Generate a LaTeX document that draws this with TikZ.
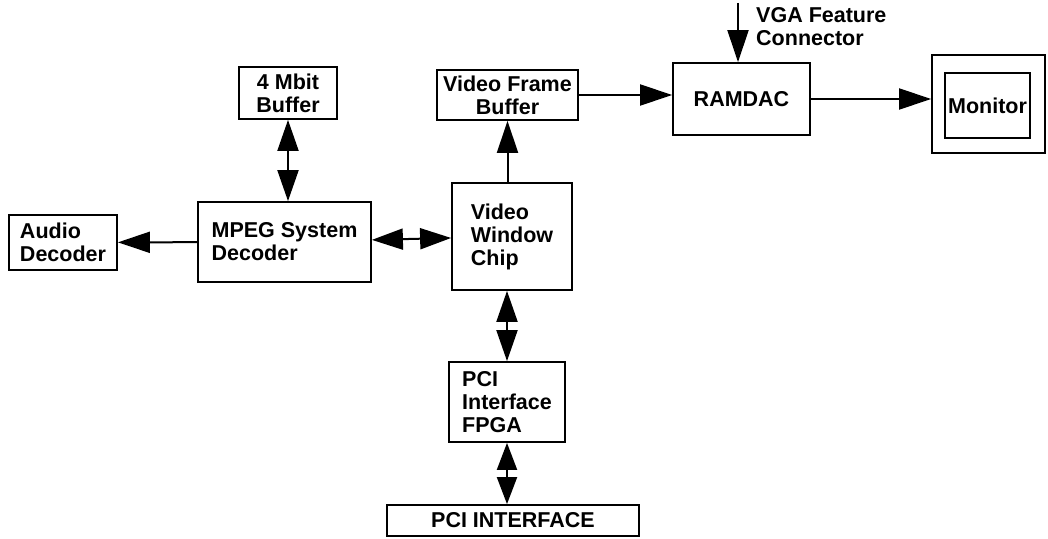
\documentclass[tikz,border=0pt]{standalone}
\usepackage{fontspec}
\setmainfont{Liberation Sans}
\usetikzlibrary{arrows.meta,positioning}

\begin{document}
\begin{tikzpicture}[x=1pt,y=1pt,
  font=\bfseries\fontsize{21.5}{23}\selectfont,
  blk/.style={draw,line width=1.8pt,inner sep=0pt,align=left},
  blkc/.style={blk,align=center},
  ed/.style={-{Triangle[length=32pt,width=21pt]},line width=2pt},
  edd/.style={{Triangle[length=31pt,width=21pt]}-{Triangle[length=31pt,width=21pt]},line width=2pt},
  eds/.style={{Triangle[length=27pt,width=20pt]}-{Triangle[length=27pt,width=20pt]},line width=2pt}]
\useasboundingbox (0,0) rectangle (1048,538);
% blocks
\node[blkc,minimum width=98pt,minimum height=52pt] (buf) at (288,445) {4 Mbit\\Buffer};
\node[blkc,minimum width=141pt,minimum height=50pt] (vfb) at (507.5,443) {Video Frame\\Buffer};
\node[blkc,minimum width=137pt,minimum height=72pt] (ramdac) at (741.5,439) {RAMDAC};
\node[blk,minimum width=113pt,minimum height=98pt] (mon) at (988.5,434) {};
\node[blkc,minimum width=85pt,minimum height=65pt] (moni) at (987.5,432.5) {Monitor};
\node[blk,minimum width=108pt,minimum height=55pt] (aud) at (63,295.5) {Audio\\Decoder};
\node[blk,minimum width=173pt,minimum height=80pt] (mpeg) at (284.5,296) {MPEG System\\Decoder};
\node[blk,minimum width=120pt,minimum height=107pt] (vwc) at (512,301.5) {Video\\Window\\Chip};
\node[blk,minimum width=116pt,minimum height=80pt] (fpga) at (507,136) {PCI\\Interface\\FPGA};
\node[blkc,minimum width=252pt,minimum height=31pt] (pci) at (513,17.5) {PCI INTERFACE};
\node[align=left,inner sep=0pt,anchor=north west] (vga) at (756,531) {VGA Feature\\Connector};
\coordinate (vgain) at (738,535);
% connectors
\draw[edd] (buf.south) -- (buf.south |- mpeg.north);
\draw[ed] (mpeg) -- (aud);
\draw[edd] (mpeg) -- (vwc);
\draw[ed] (vfb.south |- vwc.north) -- (vfb.south);
\draw[ed] (vfb.east) -- (vfb.east -| ramdac.west);
\draw[ed] (vgain) -- (vgain |- ramdac.north);
\draw[ed] (ramdac.east) -- (ramdac.east -| mon.west);
\draw[edd] (fpga.north |- vwc.south) -- (fpga.north);
\draw[eds] (fpga.south) -- (fpga.south |- pci.north);
\end{tikzpicture}
\end{document}
